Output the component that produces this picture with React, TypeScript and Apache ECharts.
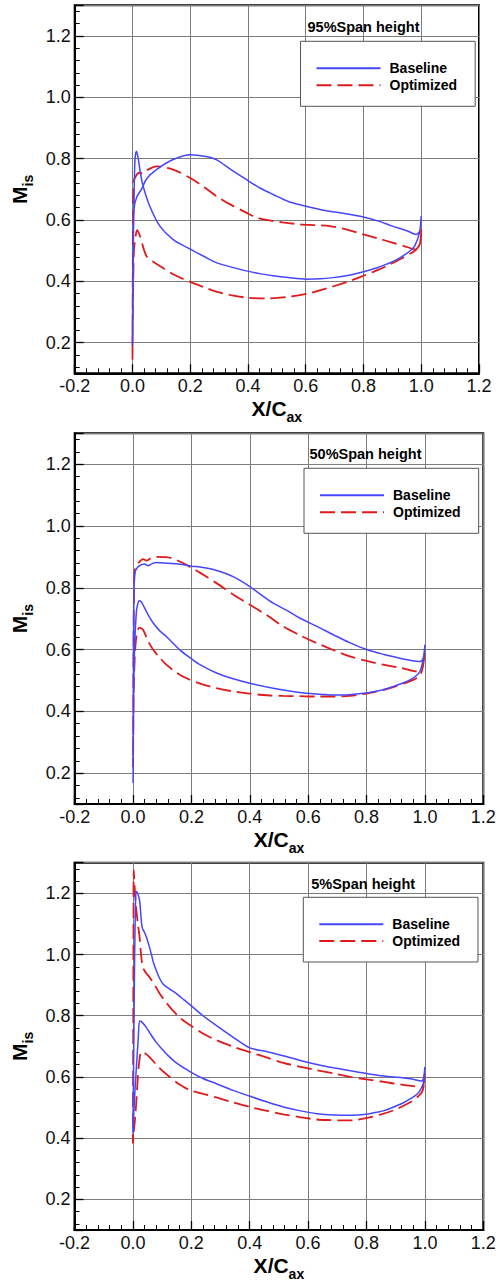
import React, { useEffect, useRef } from "react";
import * as echarts from "echarts";

type Pt = [number, number];

// ---------- axis ticks ----------
const xTickValues = [-0.2, 0.0, 0.2, 0.4, 0.6, 0.8, 1.0, 1.2];
const yTickValues = [0.2, 0.4, 0.6, 0.8, 1.0, 1.2];

// ---------- panel titles / legend ----------
const panelTitles = ["95%Span height", "50%Span height", "5%Span height"];
const seriesNames = ["Baseline", "Optimized"];

// ---------- 95% span ----------
const base95Suction: Pt[] = [
  [0.0, 0.19], [0.003, 0.5], [0.006, 0.64], [0.015, 0.675], [0.031, 0.7], [0.05, 0.735],
  [0.083, 0.764], [0.141, 0.797], [0.2, 0.813], [0.25, 0.808], [0.29, 0.797], [0.34, 0.765],
  [0.394, 0.732], [0.44, 0.705], [0.487, 0.683], [0.54, 0.66], [0.59, 0.647], [0.66, 0.632],
  [0.73, 0.622], [0.8, 0.61], [0.85, 0.597], [0.9, 0.58], [0.95, 0.565], [0.983, 0.553],
  [0.995, 0.565], [1.0, 0.613],
];
const base95Pressure: Pt[] = [
  [0.0, 0.19], [0.002, 0.46], [0.006, 0.7], [0.009, 0.8], [0.014, 0.824], [0.02, 0.8],
  [0.028, 0.75], [0.037, 0.71], [0.06, 0.645], [0.095, 0.58], [0.14, 0.537], [0.2, 0.505],
  [0.25, 0.48], [0.29, 0.461], [0.34, 0.447], [0.394, 0.434], [0.44, 0.425], [0.487, 0.418],
  [0.54, 0.412], [0.6, 0.407], [0.65, 0.408], [0.694, 0.412], [0.75, 0.42], [0.8, 0.431],
  [0.85, 0.445], [0.88, 0.456], [0.91, 0.468], [0.937, 0.483], [0.96, 0.498], [0.977, 0.515],
  [0.994, 0.559], [1.0, 0.613],
];
const opt95Suction: Pt[] = [
  [0.0, 0.145], [0.001, 0.4], [0.002, 0.6], [0.003, 0.721], [0.01, 0.74], [0.023, 0.754],
  [0.037, 0.752], [0.05, 0.762], [0.083, 0.775], [0.141, 0.764], [0.2, 0.737], [0.25, 0.706],
  [0.29, 0.678], [0.34, 0.65], [0.394, 0.624], [0.43, 0.608], [0.464, 0.6], [0.52, 0.592],
  [0.579, 0.586], [0.63, 0.583], [0.683, 0.58], [0.74, 0.569], [0.8, 0.553], [0.85, 0.54],
  [0.9, 0.526], [0.94, 0.515], [0.983, 0.504], [0.995, 0.52], [1.0, 0.57],
];
const opt95Pressure: Pt[] = [
  [0.0, 0.145], [0.002, 0.35], [0.005, 0.5], [0.008, 0.526], [0.016, 0.567], [0.025, 0.55],
  [0.048, 0.483], [0.07, 0.465], [0.095, 0.45], [0.141, 0.423], [0.2, 0.398], [0.25, 0.38],
  [0.29, 0.366], [0.34, 0.355], [0.394, 0.347], [0.464, 0.344], [0.544, 0.35], [0.625, 0.364],
  [0.694, 0.383], [0.75, 0.4], [0.8, 0.418], [0.85, 0.437], [0.88, 0.45], [0.937, 0.477],
  [0.97, 0.495], [0.983, 0.504], [0.997, 0.526], [1.0, 0.57],
];

// ---------- 50% span ----------
const base50Suction: Pt[] = [
  [0.0, 0.168], [0.001, 0.45], [0.002, 0.7], [0.004, 0.82], [0.006, 0.847], [0.012, 0.862],
  [0.023, 0.872], [0.04, 0.877], [0.051, 0.871], [0.065, 0.878], [0.08, 0.882], [0.12, 0.879],
  [0.16, 0.876], [0.2, 0.87], [0.229, 0.867], [0.26, 0.862], [0.286, 0.856], [0.343, 0.836],
  [0.4, 0.804], [0.44, 0.776], [0.48, 0.75], [0.53, 0.725], [0.571, 0.702], [0.63, 0.675],
  [0.686, 0.648], [0.74, 0.623], [0.8, 0.6], [0.86, 0.584], [0.914, 0.572], [0.95, 0.565],
  [0.983, 0.561], [0.995, 0.575], [1.0, 0.615],
];
const base50Pressure: Pt[] = [
  [0.0, 0.168], [0.002, 0.47], [0.006, 0.631], [0.011, 0.718], [0.014, 0.739], [0.021, 0.758],
  [0.028, 0.755], [0.034, 0.745], [0.05, 0.715], [0.069, 0.686], [0.09, 0.662], [0.114, 0.642],
  [0.16, 0.599], [0.2, 0.57], [0.229, 0.551], [0.286, 0.524], [0.34, 0.506], [0.4, 0.491],
  [0.48, 0.475], [0.571, 0.461], [0.63, 0.456], [0.686, 0.453], [0.74, 0.454], [0.8, 0.459],
  [0.85, 0.468], [0.891, 0.48], [0.92, 0.49], [0.949, 0.502], [0.97, 0.515], [0.983, 0.529],
  [0.994, 0.567], [1.0, 0.615],
];
const opt50Suction: Pt[] = [
  [0.0, 0.22], [0.001, 0.5], [0.003, 0.78], [0.006, 0.858], [0.014, 0.875], [0.023, 0.885],
  [0.034, 0.893], [0.046, 0.888], [0.06, 0.895], [0.08, 0.9], [0.114, 0.899], [0.14, 0.893],
  [0.171, 0.88], [0.2, 0.865], [0.229, 0.849], [0.286, 0.815], [0.34, 0.78], [0.4, 0.745],
  [0.46, 0.71], [0.514, 0.675], [0.57, 0.647], [0.629, 0.621], [0.69, 0.597], [0.743, 0.578],
  [0.8, 0.563], [0.857, 0.551], [0.92, 0.54], [0.971, 0.529], [0.99, 0.545], [1.0, 0.588],
];
const opt50Pressure: Pt[] = [
  [0.0, 0.22], [0.002, 0.45], [0.006, 0.58], [0.012, 0.645], [0.021, 0.671], [0.034, 0.664],
  [0.05, 0.63], [0.069, 0.599], [0.09, 0.575], [0.114, 0.551], [0.15, 0.525], [0.183, 0.507],
  [0.23, 0.49], [0.286, 0.475], [0.34, 0.465], [0.4, 0.457], [0.46, 0.452], [0.514, 0.45],
  [0.57, 0.449], [0.629, 0.448], [0.69, 0.448], [0.743, 0.45], [0.79, 0.456], [0.834, 0.464],
  [0.88, 0.475], [0.914, 0.486], [0.945, 0.496], [0.971, 0.507], [0.985, 0.52], [0.992, 0.54],
  [1.0, 0.588],
];

// ---------- 5% span ----------
const base5Suction: Pt[] = [
  [0.0, 0.415], [0.003, 0.7], [0.006, 1.0], [0.009, 1.17], [0.011, 1.207], [0.016, 1.2],
  [0.023, 1.176], [0.028, 1.12], [0.032, 1.087], [0.04, 1.072], [0.046, 1.057], [0.055, 1.03],
  [0.063, 1.002], [0.07, 0.975], [0.08, 0.948], [0.09, 0.925], [0.103, 0.904], [0.125, 0.888],
  [0.149, 0.872], [0.175, 0.852], [0.198, 0.834], [0.24, 0.8], [0.286, 0.768], [0.34, 0.732],
  [0.401, 0.695], [0.458, 0.683], [0.515, 0.669], [0.573, 0.654], [0.63, 0.641], [0.687, 0.63],
  [0.745, 0.62], [0.802, 0.611], [0.86, 0.603], [0.916, 0.598], [0.95, 0.594], [0.99, 0.587],
  [0.996, 0.6], [1.0, 0.633],
];
const base5Pressure: Pt[] = [
  [0.0, 0.415], [0.005, 0.52], [0.012, 0.633], [0.018, 0.72], [0.023, 0.783], [0.03, 0.78],
  [0.046, 0.762], [0.057, 0.745], [0.08, 0.713], [0.103, 0.688], [0.115, 0.675], [0.15, 0.645],
  [0.198, 0.616], [0.24, 0.595], [0.286, 0.578], [0.34, 0.557], [0.401, 0.537], [0.46, 0.518],
  [0.515, 0.502], [0.57, 0.49], [0.63, 0.48], [0.69, 0.476], [0.745, 0.475], [0.8, 0.478],
  [0.825, 0.483], [0.86, 0.49], [0.893, 0.502], [0.925, 0.515], [0.951, 0.529], [0.975, 0.545],
  [0.987, 0.562], [0.995, 0.58], [1.0, 0.633],
];
const opt5Suction: Pt[] = [
  [0.0, 0.383], [0.001, 0.7], [0.002, 1.1], [0.003, 1.276], [0.006, 1.22], [0.011, 1.154],
  [0.017, 1.1], [0.023, 1.057], [0.028, 1.0], [0.034, 0.959], [0.045, 0.94], [0.057, 0.926],
  [0.075, 0.9], [0.092, 0.872], [0.115, 0.842], [0.137, 0.817], [0.165, 0.79], [0.198, 0.768],
  [0.24, 0.742], [0.286, 0.72], [0.34, 0.7], [0.401, 0.681], [0.46, 0.663], [0.515, 0.646],
  [0.57, 0.634], [0.63, 0.622], [0.69, 0.611], [0.745, 0.6], [0.8, 0.592], [0.859, 0.584],
  [0.92, 0.575], [0.96, 0.57], [0.99, 0.567], [0.996, 0.58], [1.0, 0.611],
];
const opt5Pressure: Pt[] = [
  [0.0, 0.383], [0.004, 0.43], [0.008, 0.47], [0.012, 0.524], [0.017, 0.6], [0.021, 0.644],
  [0.029, 0.682], [0.04, 0.678], [0.057, 0.665], [0.09, 0.63], [0.126, 0.6], [0.16, 0.575],
  [0.195, 0.557], [0.24, 0.545], [0.286, 0.533], [0.34, 0.518], [0.401, 0.502], [0.46, 0.489],
  [0.515, 0.478], [0.57, 0.469], [0.63, 0.461], [0.68, 0.459], [0.722, 0.458], [0.76, 0.459],
  [0.802, 0.466], [0.85, 0.478], [0.893, 0.491], [0.925, 0.505], [0.951, 0.518], [0.975, 0.535],
  [0.99, 0.551], [0.996, 0.57], [1.0, 0.611],
];

const panelCurves = [
  { base: [base95Suction, base95Pressure], opt: [opt95Suction, opt95Pressure] },
  { base: [base50Suction, base50Pressure], opt: [opt50Suction, opt50Pressure] },
  { base: [base5Suction, base5Pressure], opt: [opt5Suction, opt5Pressure] },
];

// ---------- layout ----------
const FONT = "'Liberation Sans', Arial, Helvetica, sans-serif";
const grids = [
  { left: 74.7, top: 5.3, width: 404.3, height: 368 },
  { left: 74.7, top: 433.3, width: 408.6, height: 370.7 },
  { left: 74.5, top: 862.7, width: 408.8, height: 367.3 },
];
const titlePos = [
  { left: 307.5, top: 19 },
  { left: 309.5, top: 446.5 },
  { left: 311.2, top: 876 },
];
const legendPos = [
  { left: 300.5, top: 41.3, gap: 3 },
  { left: 304, top: 468.3, gap: 3 },
  { left: 303.3, top: 897.3, gap: 2.7 },
];
const BLUE = "#4646ff";
const RED = "#e01a1a";
const GRID_LINE = "#7c7c7c";

function loop(suction: Pt[], pressure: Pt[]): Pt[] {
  return [...suction].reverse().concat(pressure.slice(1));
}

export default function App() {
  const ref = useRef<HTMLDivElement>(null);

  useEffect(() => {
    document.body.style.margin = "0";
    if (!ref.current) return;
    const chart = echarts.init(ref.current, undefined, { renderer: "svg" });

    const xAxes: any[] = [];
    const yAxes: any[] = [];
    const series: any[] = [];

    const nameRich = {
      a: { fontSize: 21, fontWeight: "bold", fontFamily: FONT, color: "#000", lineHeight: 22, verticalAlign: "top" },
      b: { fontSize: 14, fontWeight: "bold", fontFamily: FONT, color: "#000", lineHeight: 14, verticalAlign: "top", padding: [12, 0, 0, 0] },
    };

    grids.forEach((_, i) => {
      xAxes.push({
        type: "value",
        gridIndex: i,
        min: -0.2,
        max: 1.2,
        interval: 0.2,
        name: "{a|X/C}{b|ax}",
        nameLocation: "middle",
        nameGap: 25,
        nameTextStyle: { rich: nameRich },
        axisLine: { show: true, onZero: false, lineStyle: { color: "#000", width: 2 } },
        axisTick: { show: true, inside: true, length: 9, lineStyle: { color: "#000", width: 1.3 } },
        minorTick: { show: true, splitNumber: 5, length: 5, lineStyle: { color: "#000", width: 1 } },
        axisLabel: {
          fontSize: 18,
          fontFamily: FONT,
          color: "#111",
          margin: 4,
          formatter: (v: number) => (xTickValues.some((t) => Math.abs(t - v) < 1e-6) ? v.toFixed(1) : ""),
        },
        splitLine: { show: true, lineStyle: { color: GRID_LINE, width: 1 } },
      });

      yAxes.push({
        type: "value",
        gridIndex: i,
        position: "left",
        min: 0.1,
        max: 1.3,
        splitNumber: 6,
        minInterval: 0.2,
        maxInterval: 0.2,
        name: "{a|M}{b|is}",
        nameLocation: "middle",
        nameRotate: 90,
        nameGap: 31,
        nameTextStyle: { rich: nameRich },
        axisLine: { show: true, onZero: false, lineStyle: { color: "#000", width: 2 } },
        axisTick: { show: true, inside: true, length: 9, lineStyle: { color: "#000", width: 1.3 } },
        axisLabel: {
          fontSize: 18,
          fontFamily: FONT,
          color: "#111",
          margin: 4,
          formatter: (v: number) => (yTickValues.some((t) => Math.abs(t - v) < 1e-6) ? v.toFixed(1) : ""),
        },
        splitLine: { show: true, lineStyle: { color: GRID_LINE, width: 1 } },
      });
      // minor ticks on the y axis (every 0.04)
      yAxes.push({
        type: "value",
        gridIndex: i,
        position: "left",
        min: 0.1,
        max: 1.3,
        splitNumber: 30,
        minInterval: 0.04,
        maxInterval: 0.04,
        axisLine: { show: false, onZero: false },
        axisTick: { show: true, inside: true, length: 5, lineStyle: { color: "#000", width: 1 } },
        axisLabel: { show: false },
        splitLine: { show: false },
      });

      const c = panelCurves[i];
      series.push({
        name: seriesNames[0],
        type: "line",
        xAxisIndex: i,
        yAxisIndex: i * 2,
        data: loop(c.base[0], c.base[1]),
        symbol: "none",
        showSymbol: false,
        smooth: 0.3,
        color: BLUE,
        lineStyle: { color: BLUE, width: 1.5, type: "solid" },
        z: 3,
      });
      series.push({
        name: seriesNames[1],
        type: "line",
        xAxisIndex: i,
        yAxisIndex: i * 2,
        data: loop(c.opt[0], c.opt[1]),
        symbol: "none",
        showSymbol: false,
        smooth: 0.3,
        color: RED,
        lineStyle: { color: RED, width: 1.8, type: [15, 6] },
        z: 2,
      });
    });

    chart.setOption({
      animation: false,
      backgroundColor: "#fff",
      textStyle: { fontFamily: FONT },
      grid: grids.map((g) => ({ ...g, show: true, borderColor: "#000", borderWidth: 2, backgroundColor: "transparent", containLabel: false })),
      title: panelTitles.map((t, i) => ({
        text: t,
        left: titlePos[i].left,
        top: titlePos[i].top,
        padding: 0,
        textStyle: { fontSize: 14.5, fontWeight: "bold", fontFamily: FONT, color: "#000" },
      })),
      legend: legendPos.map((p) => ({
        data: seriesNames,
        orient: "vertical",
        left: p.left,
        top: p.top,
        itemWidth: 64,
        itemHeight: 14,
        itemGap: p.gap,
        padding: [20, 18, 14, 15],
        borderColor: "#555",
        borderWidth: 1,
        backgroundColor: "#fff",
        selectedMode: false,
        itemStyle: { opacity: 0, borderWidth: 0 },
        textStyle: { fontSize: 14, fontWeight: "bold", fontFamily: FONT, color: "#000", padding: [0, 0, 0, 4] },
      })),
      xAxis: xAxes,
      yAxis: yAxes,
      series,
    });

    return () => chart.dispose();
  }, []);

  return (
    <div
      ref={ref}
      style={{ position: "absolute", left: 0, top: 0, width: 503, height: 1283, background: "#fff" }}
    />
  );
}
